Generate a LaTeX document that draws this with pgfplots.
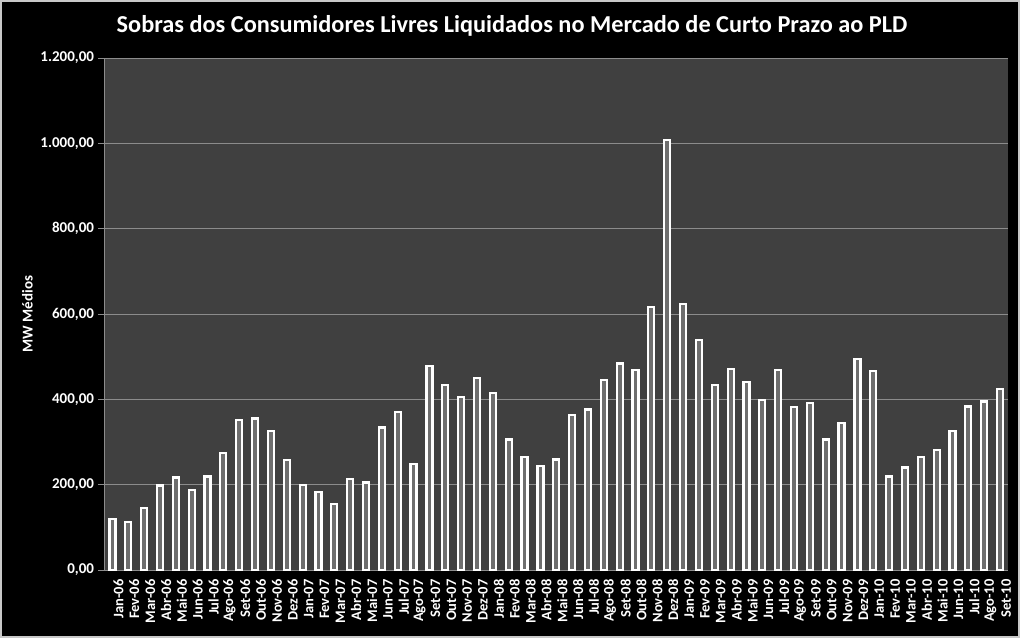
\documentclass[border=0pt]{standalone}
\usepackage{fontspec}
\setmainfont{Carlito}
\usepackage{pgfplots}
\pgfplotsset{compat=1.18}
\usepackage{pgfplotstable}
\definecolor{plotbg}{HTML}{404040}
\definecolor{gridc}{HTML}{8C8C8C}
\definecolor{barin}{HTML}{6E6E6E}
\definecolor{framec}{HTML}{C8C8C8}

\pgfplotstableread{
x y
0 119
1 112
2 145
3 198
4 217
5 187
6 219
7 274
8 351
9 355
10 325
11 257
12 199
13 183
14 155
15 213
16 205
17 334
18 370
19 248
20 479
21 434
22 405
23 450
24 415
25 306
26 264
27 244
28 259
29 364
30 376
31 446
32 484
33 469
34 616
35 1008
36 624
37 539
38 434
39 471
40 441
41 399
42 469
43 382
44 391
45 306
46 344
47 494
48 466
49 219
50 240
51 264
52 281
53 326
54 383
55 395
56 424
}\data

\begin{document}
\begin{tikzpicture}
\useasboundingbox (0,0) rectangle (1024pt,639pt);
\fill[white] (0,0) rectangle (1024pt,639pt);
\fill[black] (1pt,2pt) rectangle (1019pt,638pt);
\draw[framec, line width=1.2pt] (1pt,2pt) rectangle (1019pt,638pt);
\node[text=white, font=\fontsize{24.3}{28}\selectfont\bfseries] at (512pt,613pt) {Sobras dos Consumidores Livres Liquidados no Mercado de Curto Prazo ao PLD};
\begin{axis}[
  at={(104.5pt,69pt)}, anchor=south west,
  scale only axis, width=903.5pt, height=512pt,
  xmin=-0.5, xmax=56.5, ymin=0, ymax=1200,
  axis background/.style={fill=plotbg},
  axis x line=bottom, axis y line=left,
  axis line style={gridc, line width=0.8pt, -},
  ytick={0,200,...,1200},
  ymajorgrids, grid style={gridc, line width=0.8pt},
  tick align=outside,
  major tick length=6pt,
  tick style={gridc, line width=0.8pt},
  xtick={0,...,56},
  xtick style={draw=none},
  extra x ticks={-0.5,0.5,...,56.5},
  extra x tick labels={},
  extra x tick style={grid=none, tick style={draw=gridc, line width=0.8pt}},
  xticklabels={Jan-06,Fev-06,Mar-06,Abr-06,Mai-06,Jun-06,Jul-06,Ago-06,Set-06,Out-06,Nov-06,Dez-06,
               Jan-07,Fev-07,Mar-07,Abr-07,Mai-07,Jun-07,Jul-07,Ago-07,Set-07,Out-07,Nov-07,Dez-07,
               Jan-08,Fev-08,Mar-08,Abr-08,Mai-08,Jun-08,Jul-08,Ago-08,Set-08,Out-08,Nov-08,Dez-08,
               Jan-09,Fev-09,Mar-09,Abr-09,Mai-09,Jun-09,Jul-09,Ago-09,Set-09,Out-09,Nov-09,Dez-09,
               Jan-10,Fev-10,Mar-10,Abr-10,Mai-10,Jun-10,Jul-10,Ago-10,Set-10},
  x tick label style={rotate=90, anchor=east, text=white, font=\fontsize{14.5}{16}\selectfont\bfseries, yshift=-6pt},
  y tick label style={text=white, font=\fontsize{15}{17}\selectfont\bfseries, xshift=-1pt},
  yticklabel style={/pgf/number format/.cd, fixed, fixed zerofill, precision=2, use comma, 1000 sep={.}, assume math mode=true},
  ylabel={MW Médios},
  ylabel style={at={(axis description cs:-0.0853,0.5)}, anchor=center, text=white, font=\fontsize{15}{17}\selectfont\bfseries},
  clip=false,
]
\addplot[ybar, bar width=6pt, draw=white, line width=2.2pt, fill=barin] table[x=x, y=y] {\data};
\end{axis}
\end{tikzpicture}
\end{document}
